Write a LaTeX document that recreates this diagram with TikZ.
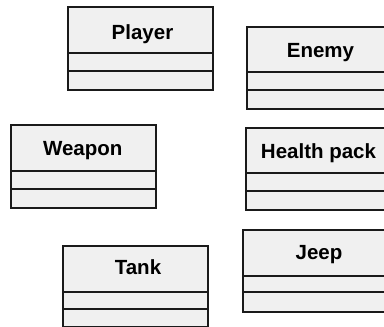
\documentclass[tikz,border=0pt]{standalone}
\usepackage{fontspec}
\setmainfont{Liberation Sans}
\definecolor{boxfill}{HTML}{F0F0F0}
\definecolor{boxline}{HTML}{1A1A1A}
\tikzset{
  umlbox/.style={draw=boxline, fill=boxfill, line width=1.8pt, rectangle, inner sep=0pt, anchor=north west},
  umltitle/.style={anchor=base, inner sep=0pt, font=\fontsize{20.5}{24}\selectfont\bfseries, text=black},
  divider/.style={draw=boxline, line width=1.8pt}
}
\begin{document}
\begin{tikzpicture}[x=1pt, y=-1pt]
\useasboundingbox (0,0) rectangle (384,327);
\clip (0,0) rectangle (384,327);
% Player
\node[umlbox, minimum width=145pt, minimum height=83pt] (player) at (67,6) {};
\node[umltitle] (playert) at (142.5,39) {Player};
\coordinate (pd1) at (67,53); \coordinate (pd1e) at (212,53);
\coordinate (pd2) at (67,71); \coordinate (pd2e) at (212,71);
\draw[divider] (pd1) -- (pd1e);
\draw[divider] (pd2) -- (pd2e);
% Enemy
\node[umlbox, minimum width=149pt, minimum height=82pt] (enemy) at (246,26) {};
\node[umltitle] (enemyt) at (320.5,57) {Enemy};
\coordinate (ed1) at (246,72); \coordinate (ed1e) at (395,72);
\coordinate (ed2) at (246,90); \coordinate (ed2e) at (395,90);
\draw[divider] (ed1) -- (ed1e);
\draw[divider] (ed2) -- (ed2e);
% Weapon
\node[umlbox, minimum width=145pt, minimum height=83pt] (weapon) at (10,124) {};
\node[umltitle] (weapont) at (82.7,155) {Weapon};
\coordinate (wd1) at (10,171); \coordinate (wd1e) at (155,171);
\coordinate (wd2) at (10,189); \coordinate (wd2e) at (155,189);
\draw[divider] (wd1) -- (wd1e);
\draw[divider] (wd2) -- (wd2e);
% Health pack
\node[umlbox, minimum width=150pt, minimum height=82pt] (health) at (245,127) {};
\node[umltitle] (healtht) at (318.5,158) {Health pack};
\coordinate (hd1) at (245,173); \coordinate (hd1e) at (395,173);
\coordinate (hd2) at (245,191); \coordinate (hd2e) at (395,191);
\draw[divider] (hd1) -- (hd1e);
\draw[divider] (hd2) -- (hd2e);
% Tank
\node[umlbox, minimum width=145pt, minimum height=81pt] (tank) at (62,245) {};
\node[umltitle] (tankt) at (138,274) {Tank};
\coordinate (td1) at (62,292); \coordinate (td1e) at (207,292);
\coordinate (td2) at (62,309); \coordinate (td2e) at (207,309);
\draw[divider] (td1) -- (td1e);
\draw[divider] (td2) -- (td2e);
% Jeep
\node[umlbox, minimum width=153pt, minimum height=82pt] (jeep) at (242,229) {};
\node[umltitle] (jeept) at (319,259) {Jeep};
\coordinate (jd1) at (242,276); \coordinate (jd1e) at (395,276);
\coordinate (jd2) at (242,292); \coordinate (jd2e) at (395,292);
\draw[divider] (jd1) -- (jd1e);
\draw[divider] (jd2) -- (jd2e);
\end{tikzpicture}
\end{document}
